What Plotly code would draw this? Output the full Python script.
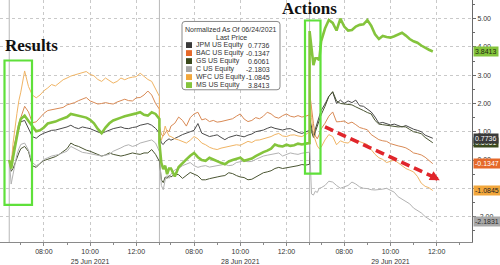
import plotly.graph_objects as go

# ---------------- data ----------------
names = ["JPM US Equity", "BAC US Equity", "GS US Equity", "C US Equity", "WFC US Equity", "MS US Equity"]
legend_values = ["0.7736", "-0.1347", "0.6061", "-2.1803", "-1.0845", "3.8413"]
tag_values = ["0.7736", "-0.1347", "0.6061", "-2.1831", "-1.0845", "3.8413"]
colors = ["#3a3a3a", "#e5692a", "#3b4a1d", "#a8a8a8", "#f2a73c", "#84c43c"]
line_colors = ["#4a4a4a", "#d98a55", "#4a5532", "#b2b2b2", "#f0b464", "#84c43c"]
tag_text_colors = ["#ffffff", "#ffffff", "#ffffff", "#2a2a2a", "#222222", "#1f2a10"]
day_labels = ["25 Jun 2021", "28 Jun 2021", "29 Jun 2021"]
major_hours = ["08:00", "10:00", "12:00"]
minor_hours = ["07:00", "09:00", "11:00", "13:00"]
session_open = "06:30"
session_hours = 6.5

# minutes after the 06:30 open at which values were read
minutes_full = [0, 5, 10, 15, 20, 25] + list(range(30, 391, 10))
minutes_day3 = [0, 5, 10, 15, 20, 25] + list(range(30, 321, 10))

jpm_d1 = [0.0, -0.2, 0.35, 0.6, 0.9, 1.15, 1.35, 1.4, 1.1, 0.83, 0.77, 0.88, 0.95, 1.0, 1.05, 1.06, 1.1, 1.12, 1.17, 1.23, 1.15, 1.11, 1.17, 1.14, 1.11, 1.05, 1.0, 0.94, 1.0, 1.06, 1.11, 1.14, 1.17, 1.12, 1.11, 1.15, 1.17, 1.23, 1.26, 1.29, 1.23, 1.12, 0.95]
jpm_d2 = [0.9, 0.6, 0.55, 0.65, 0.7, 0.75, 0.7, 0.78, 0.83, 0.9, 0.94, 1.0, 1.05, 1.29, 0.95, 0.88, 0.83, 0.86, 0.89, 0.8, 0.72, 0.8, 0.83, 0.88, 0.85, 0.82, 0.88, 0.92, 1.0, 1.03, 1.06, 1.12, 1.17, 1.12, 1.08, 1.06, 1.1, 1.11, 1.05, 0.98, 0.94, 1.0, 1.05]
jpm_d3 = [1.5, 1.1, 0.85, 1.1, 1.35, 1.55, 1.75, 1.98, 2.25, 2.4, 2.0, 2.12, 2.0, 2.09, 2.03, 2.12, 1.92, 1.9, 1.8, 1.7, 1.52, 1.3, 1.33, 1.29, 1.24, 1.27, 1.22, 1.17, 1.22, 1.14, 1.09, 1.05, 1.0, 0.88, 0.83, 0.77]

bac_d1 = [0.0, -0.1, 0.3, 0.7, 1.0, 1.3, 1.5, 1.9, 1.7, 1.32, 1.35, 1.5, 1.65, 1.75, 1.78, 1.8, 1.83, 1.86, 1.95, 1.98, 2.03, 2.1, 2.15, 2.21, 2.09, 2.03, 1.98, 2.0, 2.03, 2.0, 1.98, 2.05, 2.09, 2.15, 2.1, 2.09, 2.2, 2.21, 2.3, 2.44, 2.3, 2.0, 1.8]
bac_d2 = [1.2, 0.9, 0.85, 0.95, 1.05, 1.0, 1.2, 1.3, 1.52, 1.4, 1.2, 1.5, 1.63, 1.69, 1.42, 1.46, 1.36, 1.4, 1.34, 1.36, 1.4, 1.44, 1.46, 1.55, 1.63, 1.45, 1.36, 1.4, 1.5, 1.46, 1.55, 1.69, 1.63, 1.52, 1.48, 1.57, 1.63, 1.55, 1.52, 1.57, 1.52, 1.55, 1.6]
bac_d3 = [2.4, 1.8, 1.29, 0.85, 0.75, 0.9, 1.1, 1.3, 1.55, 1.7, 1.35, 1.36, 1.38, 1.29, 1.34, 1.25, 1.15, 1.11, 1.07, 0.9, 0.8, 0.72, 0.68, 0.66, 0.58, 0.53, 0.5, 0.47, 0.43, 0.35, 0.25, 0.22, 0.18, 0.1, 0.0, -0.13]

gs_d1 = [0.0, -0.4, -0.3, -0.1, 0.1, 0.25, 0.4, 0.48, 0.3, -0.2, -0.26, -0.12, -0.02, 0.02, 0.08, 0.12, 0.2, 0.3, 0.4, 0.6, 0.52, 0.48, 0.4, 0.35, 0.31, 0.26, 0.2, 0.14, 0.18, 0.25, 0.2, 0.18, 0.14, 0.17, 0.2, 0.25, 0.22, 0.2, 0.25, 0.25, 0.37, 0.2, -0.05]
gs_d2 = [0.0, -0.7, -0.8, -0.6, -0.65, -0.55, -0.6, -0.5, -0.52, -0.65, -0.55, -0.44, -0.5, -0.56, -0.7, -0.7, -0.66, -0.62, -0.6, -0.57, -0.55, -0.45, -0.48, -0.55, -0.6, -0.62, -0.7, -0.68, -0.6, -0.52, -0.45, -0.42, -0.38, -0.3, -0.26, -0.3, -0.28, -0.25, -0.22, -0.2, -0.16, -0.18, -0.15]
gs_d3 = [1.4, 1.0, 0.8, 1.0, 1.2, 1.4, 1.6, 1.9, 2.25, 2.42, 2.09, 2.0, 1.98, 1.98, 1.95, 1.88, 1.8, 1.75, 1.68, 1.63, 1.4, 1.27, 1.25, 1.23, 1.2, 1.18, 1.17, 1.18, 1.17, 1.08, 1.0, 0.97, 0.93, 0.8, 0.72, 0.61]

c_d1 = [0.0, -0.85, -0.5, -0.1, 0.2, 0.4, 0.55, 0.6, 0.35, -0.09, -0.2, -0.12, 0.02, 0.08, 0.14, 0.17, 0.2, 0.26, 0.31, 0.48, 0.4, 0.35, 0.27, 0.25, 0.22, 0.2, 0.18, 0.14, 0.17, 0.2, 0.31, 0.36, 0.43, 0.5, 0.54, 0.48, 0.52, 0.6, 0.63, 0.66, 0.71, 0.6, 0.35]
c_d2 = [0.3, -0.9, -1.05, -0.7, -0.55, -0.65, -0.5, -0.35, -0.3, -0.2, -0.15, -0.09, -0.2, -0.26, -0.22, -0.2, -0.25, -0.22, -0.2, -0.18, -0.15, -0.2, -0.18, -0.09, -0.05, -0.03, -0.06, -0.05, 0.02, 0.08, 0.14, 0.17, 0.2, 0.23, 0.25, 0.14, 0.2, 0.25, 0.22, 0.2, 0.24, 0.25, 0.28]
c_d3 = [0.6, -1.2, -1.24, -1.1, -1.15, -1.0, -0.98, -0.9, -0.75, -0.78, -0.9, -1.0, -0.95, -0.9, -0.78, -0.85, -0.95, -1.0, -1.01, -1.05, -1.06, -1.05, -1.03, -1.0, -1.08, -1.14, -1.3, -1.38, -1.46, -1.55, -1.7, -1.78, -1.87, -2.0, -2.1, -2.18]

wfc_d1 = [0.0, -0.2, 0.6, 1.2, 1.65, 2.1, 2.4, 3.15, 2.6, 2.3, 2.2, 2.3, 2.45, 2.55, 2.67, 2.62, 2.72, 2.84, 2.9, 2.97, 3.01, 3.05, 3.1, 3.13, 3.03, 2.98, 2.85, 2.78, 2.9, 2.8, 2.72, 2.78, 2.9, 2.84, 2.9, 2.93, 2.95, 3.07, 2.95, 2.85, 2.78, 2.5, 2.25]
wfc_d2 = [1.0, 0.7, 0.9, 1.2, 1.0, 0.85, 0.83, 0.75, 0.71, 0.65, 0.6, 0.7, 0.83, 0.75, 0.6, 0.54, 0.45, 0.4, 0.37, 0.42, 0.45, 0.48, 0.5, 0.54, 0.52, 0.6, 0.66, 0.62, 0.7, 0.71, 0.75, 0.8, 0.83, 0.9, 0.94, 0.85, 0.83, 0.88, 0.89, 0.85, 0.83, 0.9, 1.0]
wfc_d3 = [2.6, 1.5, 0.9, 0.65, 0.5, 0.4, 0.45, 0.71, 0.9, 0.83, 0.54, 0.68, 0.62, 0.6, 0.72, 0.7, 0.65, 0.6, 0.55, 0.37, 0.2, 0.08, 0.02, -0.09, -0.05, 0.0, -0.1, -0.2, -0.3, -0.36, -0.42, -0.58, -0.82, -0.93, -0.98, -1.08]

ms_d1 = [0.0, -0.3, 0.1, 0.5, 0.9, 1.2, 1.45, 1.57, 1.38, 1.2, 1.02, 1.05, 1.15, 1.29, 1.32, 1.36, 1.42, 1.47, 1.52, 1.63, 1.6, 1.57, 1.52, 1.5, 1.42, 1.3, 1.1, 0.95, 1.15, 1.3, 1.4, 1.46, 1.5, 1.55, 1.58, 1.6, 1.65, 1.69, 1.6, 1.57, 1.69, 1.63, 1.45]
ms_d2 = [0.6, -0.1, -0.32, -0.2, -0.5, -0.3, -0.3, -0.58, -0.25, -0.1, 0.02, 0.15, 0.25, 0.1, 0.0, -0.03, 0.08, 0.02, -0.05, -0.1, -0.15, -0.05, 0.0, 0.05, 0.08, -0.03, 0.0, 0.05, 0.14, 0.22, 0.28, 0.33, 0.4, 0.55, 0.5, 0.48, 0.54, 0.5, 0.52, 0.58, 0.55, 0.58, 0.6]
ms_d3 = [4.56, 3.93, 3.36, 3.6, 3.6, 3.53, 4.2, 4.65, 4.95, 4.85, 4.58, 5.0, 4.72, 4.58, 4.6, 4.72, 4.78, 4.8, 4.95, 4.75, 4.45, 4.28, 4.39, 4.35, 4.33, 4.38, 4.45, 4.5, 4.4, 4.28, 4.2, 4.15, 4.05, 3.96, 3.9, 3.84]

series_days = [
    [jpm_d1, jpm_d2, jpm_d3],
    [bac_d1, bac_d2, bac_d3],
    [gs_d1, gs_d2, gs_d3],
    [c_d1, c_d2, c_d3],
    [wfc_d1, wfc_d2, wfc_d3],
    [ms_d1, ms_d2, ms_d3],
]
line_widths = [1, 1, 1, 1, 1, 2.6]

# ---------------- layout helpers ----------------
W, H = 500, 265
ML, MR, MT, MB = 0, 28, 0, 17
PW, PH = W - ML - MR, H - MT - MB


def px(x):
    return (x - ML) / PW


def py(y):
    return 1 - (y - MT) / PH


def hours(hhmm):
    h, m = hhmm.split(":")
    return int(h) + int(m) / 60


OPEN_H = hours(session_open)


def xpos(day, minute):
    return day * session_hours + minute / 60


fig = go.Figure()

for i, name in enumerate(names):
    xs, ys = [], []
    for d, vals in enumerate(series_days[i]):
        mins = minutes_day3 if d == 2 else minutes_full
        assert len(mins) == len(vals), (name, d, len(mins), len(vals))
        xs += [xpos(d, m) for m in mins]
        ys += vals
    fig.add_trace(go.Scatter(
        x=xs, y=ys, mode="lines", name=name,
        line=dict(color=line_colors[i], width=line_widths[i]),
        hoverinfo="skip", showlegend=False,
    ))

tickvals, ticktext = [], []
for d in range(3):
    for hh in major_hours:
        tickvals.append(d * session_hours + hours(hh) - OPEN_H)
        ticktext.append(hh + ("<br>" + day_labels[d] if hh == "10:00" else ""))
minor_vals = [d * session_hours + hours(hh) - OPEN_H for d in range(3) for hh in minor_hours]

ytick = list(range(-2, 6))

shapes = []
# session separators
for d in range(3):
    shapes.append(dict(type="line", xref="x", yref="paper", x0=d * session_hours, x1=d * session_hours,
                       y0=0, y1=1, line=dict(color="#b8b8b8", width=1), layer="below"))

# green highlight boxes
green = "#5fe03a"
shapes.append(dict(type="rect", xref="paper", yref="paper", x0=px(4.5), x1=px(32), y0=py(210), y1=py(62),
                   line=dict(color=green, width=2.2)))
shapes.append(dict(type="rect", xref="paper", yref="paper", x0=px(305), x1=px(320.5), y0=py(178), y1=py(21),
                   line=dict(color=green, width=2.2)))

# red dashed trend arrow (body)
red = "#e0262b"
a_x0, a_y0 = xpos(2, 40), 1.17
a_x1, a_y1 = xpos(2, 322), -0.6
a_tip_x, a_tip_y = xpos(2, 338), -0.72
shapes.append(dict(type="line", xref="x", yref="y", x0=a_x0, y0=a_y0, x1=a_x1, y1=a_y1,
                   line=dict(color=red, width=3.6, dash="9px,5px")))

# legend box (rounded)
lx0, lx1, ly0, ly1, r = 182, 280, 22, 92, 3
path = (f"M {px(lx0 + r)} {py(ly0)} L {px(lx1 - r)} {py(ly0)} Q {px(lx1)} {py(ly0)} {px(lx1)} {py(ly0 + r)} "
        f"L {px(lx1)} {py(ly1 - r)} Q {px(lx1)} {py(ly1)} {px(lx1 - r)} {py(ly1)} "
        f"L {px(lx0 + r)} {py(ly1)} Q {px(lx0)} {py(ly1)} {px(lx0)} {py(ly1 - r)} "
        f"L {px(lx0)} {py(ly0 + r)} Q {px(lx0)} {py(ly0)} {px(lx0 + r)} {py(ly0)} Z")
shapes.append(dict(type="path", xref="paper", yref="paper", path=path,
                   fillcolor="white", line=dict(color="#8a8a8a", width=1)))

annotations = []
font_ui = "Liberation Sans, Arial, sans-serif"
annotations.append(dict(xref="paper", yref="paper", x=px(231), y=py(30), text="Normalized As Of 06/24/2021",
                        showarrow=False, font=dict(size=7, color="#333333", family=font_ui),
                        xanchor="center", yanchor="middle"))
annotations.append(dict(xref="paper", yref="paper", x=px(231), y=py(38.3), text="Last Price",
                        showarrow=False, font=dict(size=7, color="#333333", family=font_ui),
                        xanchor="center", yanchor="middle"))
for i, name in enumerate(names):
    yy = 46.2 + i * 8.2
    shapes.append(dict(type="rect", xref="paper", yref="paper", x0=px(186), x1=px(192),
                       y0=py(yy + 3), y1=py(yy - 3), fillcolor=colors[i], line=dict(width=0)))
    annotations.append(dict(xref="paper", yref="paper", x=px(194), y=py(yy), text=name, showarrow=False,
                            font=dict(size=7, color="#333333", family=font_ui), xanchor="left", yanchor="middle"))
    annotations.append(dict(xref="paper", yref="paper", x=px(272), y=py(yy), text=legend_values[i], showarrow=False,
                            font=dict(size=7, color="#333333", family=font_ui), xanchor="right", yanchor="middle"))

# titles
serif = "Liberation Serif, Times New Roman, serif"
annotations.append(dict(xref="paper", yref="paper", x=px(31), y=py(47), text="<b>Results</b>", showarrow=False,
                        font=dict(size=17, color="#111111", family=serif), xanchor="center", yanchor="middle"))
annotations.append(dict(xref="paper", yref="paper", x=px(309), y=py(9), text="<b>Actions</b>", showarrow=False,
                        font=dict(size=17, color="#111111", family=serif), xanchor="center", yanchor="middle"))

# arrow head
annotations.append(dict(xref="x", yref="y", axref="x", ayref="y", x=a_tip_x, y=a_tip_y, ax=a_x1, ay=a_y1,
                        text="", showarrow=True, arrowhead=2, arrowsize=0.55, arrowwidth=3.6,
                        arrowcolor=red, standoff=0))

# last-price tags on the right axis (GS drawn first so JPM sits on top)
for i in [2, 3, 4, 1, 0, 5]:
    last = series_days[i][2][-1]
    annotations.append(dict(xref="paper", yref="y", x=1, y=last, xanchor="left", yanchor="middle", xshift=1,
                            text=tag_values[i], showarrow=False, bgcolor=colors[i], borderpad=1,
                            font=dict(size=7, color=tag_text_colors[i], family=font_ui)))

fig.update_layout(
    width=W, height=H,
    margin=dict(l=ML, r=MR, t=MT, b=MB, pad=0),
    paper_bgcolor="white", plot_bgcolor="white",
    showlegend=False,
    shapes=shapes,
    annotations=annotations,
    xaxis=dict(
        range=[-0.40, 20.03], tickvals=tickvals, ticktext=ticktext,
        showline=True, linecolor="#8a8a8a", linewidth=1, mirror=False,
        ticks="outside", ticklen=3, tickcolor="#8a8a8a",
        tickfont=dict(size=7, color="#333333", family=font_ui),
        showgrid=True, gridcolor="#c9c9c9", griddash="dot", gridwidth=1, zeroline=False,
        minor=dict(tickvals=minor_vals, ticks="outside", ticklen=2, tickcolor="#8a8a8a", showgrid=False),
        fixedrange=True,
    ),
    yaxis=dict(
        side="right", range=[-2.9, 5.66], tickvals=ytick, ticktext=[f"{v:.2f}" for v in ytick],
        showline=True, linecolor="#6a6a6a", linewidth=1,
        ticks="outside", ticklen=3, tickcolor="#6a6a6a",
        tickfont=dict(size=7, color="#333333", family=font_ui),
        showgrid=True, gridcolor="#c9c9c9", griddash="dot", gridwidth=1, zeroline=False,
        minor=dict(tickvals=[v + 0.5 for v in range(-3, 6)], ticks="outside", ticklen=2,
                   tickcolor="#6a6a6a", showgrid=False),
        fixedrange=True,
    ),
)

fig.write_html("out.html")
